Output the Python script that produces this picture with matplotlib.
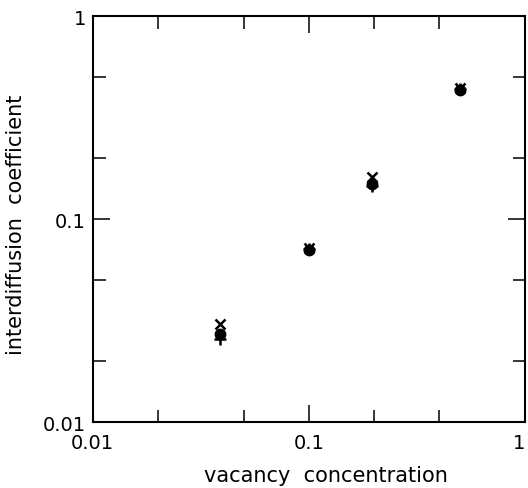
import numpy as np
import matplotlib.pyplot as plt
from matplotlib.ticker import FixedLocator, NullFormatter, FixedFormatter

# vacancy concentration of the four samples
conc = [0.039, 0.1, 0.195, 0.5]

# interdiffusion coefficient, three sets of symbols
D_cross = [0.0305, 0.0725, 0.162, 0.445]
D_circle = [0.0272, 0.0705, 0.150, 0.432]
D_plus = [0.0258, 0.0715, 0.146, 0.438]

major_ticks = [0.01, 0.1, 1]
major_labels = ['0.01', '0.1', '1']
x_minor = [0.02, 0.05, 0.2, 0.4]
y_minor = [0.02, 0.05, 0.2, 0.5]

fig = plt.figure(figsize=(5.28, 4.89), dpi=100)
ax = fig.add_axes([0.1756, 0.1344, 0.8187, 0.8302])

ax.plot(conc, D_circle, 'o', color='black', ms=7.5, ls='none')
ax.plot(conc, D_plus, '+', color='black', ms=8, mew=1.8, ls='none')
ax.plot(conc, D_cross, 'x', color='black', ms=6.5, mew=1.8, ls='none')

ax.set_xscale('log')
ax.set_yscale('log')
ax.set_xlim(0.01, 1)
ax.set_ylim(0.01, 1)

for axis, minor in ((ax.xaxis, x_minor), (ax.yaxis, y_minor)):
    axis.set_major_locator(FixedLocator(major_ticks))
    axis.set_major_formatter(FixedFormatter(major_labels))
    axis.set_minor_locator(FixedLocator(minor))
    axis.set_minor_formatter(NullFormatter())

ax.tick_params(which='both', direction='in', top=True, right=True, width=1.1, colors='black')
ax.tick_params(which='major', length=12, labelsize=14)
ax.tick_params(axis='x', which='major', pad=8)
ax.tick_params(axis='y', which='major', pad=5)
ax.tick_params(which='minor', length=9)
for s in ax.spines.values():
    s.set_linewidth(1.5)

# keep the "1" at the right end inside the picture
ax.get_xticklabels()[-1].set_horizontalalignment('right')

ax.set_xlabel('vacancy  concentration', fontsize=15)
ax.xaxis.set_label_coords(0.54, -0.105)
ax.set_ylabel('interdiffusion  coefficient', fontsize=15)
ax.yaxis.set_label_coords(-0.155, 0.49)

fig.savefig('out.png', dpi=100)
